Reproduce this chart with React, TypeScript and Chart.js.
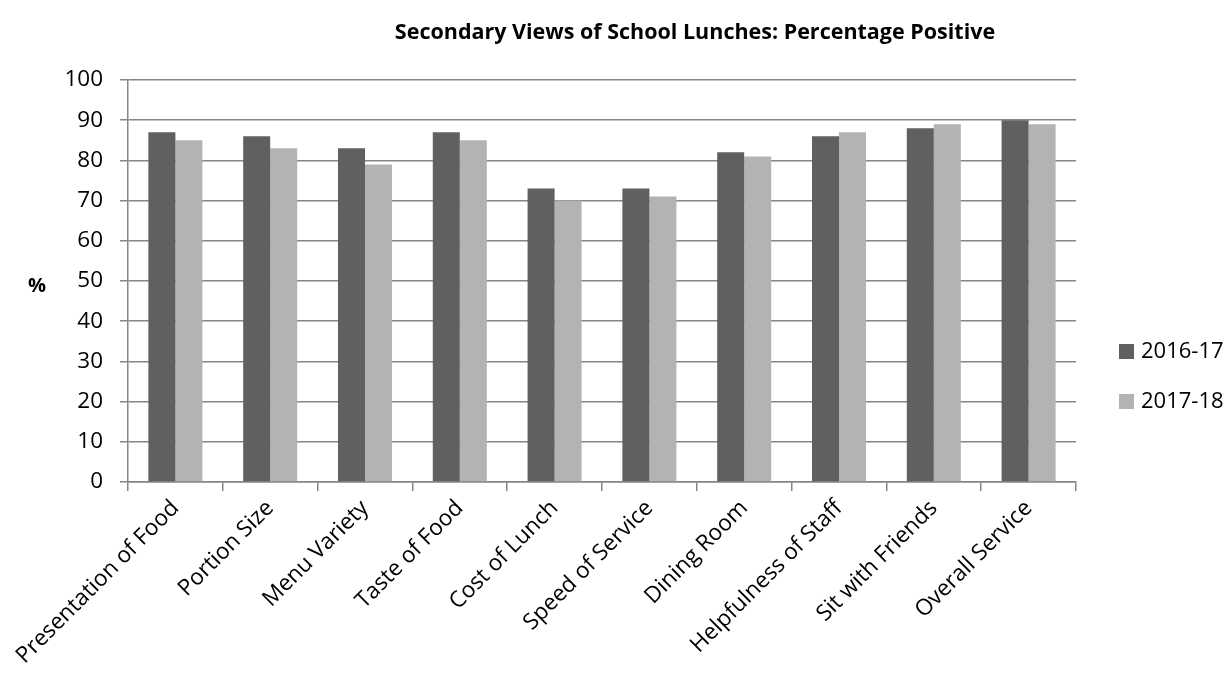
import React, { useEffect, useRef } from "react";
import { Chart, registerables } from "chart.js";

Chart.register(...registerables);

const categories = [
  "Presentation of Food",
  "Portion Size",
  "Menu Variety",
  "Taste of Food",
  "Cost of Lunch",
  "Speed of Service",
  "Dining Room",
  "Helpfulness of Staff",
  "Sit with Friends",
  "Overall Service",
];
const series2016 = [87, 86, 83, 87, 73, 73, 82, 86, 88, 90];
const series2017 = [85, 83, 79, 85, 70, 71, 81, 87, 89, 89];
const seriesLabels = ["2016-17", "2017-18"];
const seriesColors = ["#606060", "#b3b3b3"];
const titleText = "Secondary Views of School Lunches: Percentage Positive";
const yAxisTitle = "%";

const FONT = "'Open Sans', sans-serif";

const overlayPlugin = {
  id: "overlay",
  afterDraw(chart: any) {
    const ctx = chart.ctx as CanvasRenderingContext2D;
    const area = chart.chartArea;
    ctx.save();
    // title
    ctx.fillStyle = "#000";
    ctx.font = `bold 21.5px ${FONT}`;
    ctx.textAlign = "center";
    ctx.textBaseline = "middle";
    ctx.fillText(titleText, 695, 33);
    // y-axis title
    ctx.font = `bold 20px ${FONT}`;
    ctx.fillText(yAxisTitle, 37, 286);
    // legend
    ctx.font = `22px ${FONT}`;
    ctx.textAlign = "left";
    const lx = area.right + 43;
    const ys = [351, 401];
    seriesLabels.forEach((lab, i) => {
      ctx.fillStyle = seriesColors[i];
      ctx.fillRect(lx, ys[i] - 7, 15, 15);
      ctx.fillStyle = "#000";
      ctx.fillText(lab, lx + 22, ys[i] + 1);
    });
    ctx.restore();
  },
};

export default function App() {
  const ref = useRef<HTMLCanvasElement | null>(null);
  useEffect(() => {
    if (!ref.current) return;
    const chart = new Chart(ref.current, {
      type: "bar",
      data: {
        labels: categories,
        datasets: [
          {
            label: seriesLabels[0],
            data: series2016,
            backgroundColor: seriesColors[0],
            categoryPercentage: 0.57,
            barPercentage: 1,
          },
          {
            label: seriesLabels[1],
            data: series2017,
            backgroundColor: seriesColors[1],
            categoryPercentage: 0.57,
            barPercentage: 1,
          },
        ],
      },
      options: {
        responsive: false,
        animation: false,
        devicePixelRatio: 1,
        layout: { padding: { left: 0, right: 156, top: 80, bottom: 0 } },
        plugins: {
          legend: { display: false },
          title: { display: false },
          tooltip: { enabled: false },
        },
        scales: {
          x: {
            grid: {
              drawOnChartArea: false,
              drawTicks: true,
              tickLength: 9,
              color: "#868686",
              lineWidth: 1.5,
            },
            border: { color: "#868686", width: 1.5 },
            ticks: {
              minRotation: 45,
              maxRotation: 45,
              color: "#000",
              font: { family: FONT, size: 22.5 },
              padding: 4,
              autoSkip: false,
            },
            afterFit(scale: any) {
              scale.height = 191;
            },
          },
          y: {
            min: 0,
            max: 100,
            ticks: {
              stepSize: 10,
              color: "#000",
              font: { family: FONT, size: 22.5 },
              padding: 17,
            },
            grid: {
              color: "#868686",
              lineWidth: 1.5,
              tickLength: 8,
            },
            border: { color: "#868686", width: 1.5 },
            afterFit(scale: any) {
              scale.width = 128;
            },
          },
        },
      },
      plugins: [overlayPlugin],
    });
    return () => chart.destroy();
  }, []);
  return (
    <div style={{ position: "fixed", left: 0, top: 0, width: 1232, height: 673, background: "#fff" }}>
      <canvas ref={ref} width={1232} height={673} style={{ width: 1232, height: 673 }} />
    </div>
  );
}
